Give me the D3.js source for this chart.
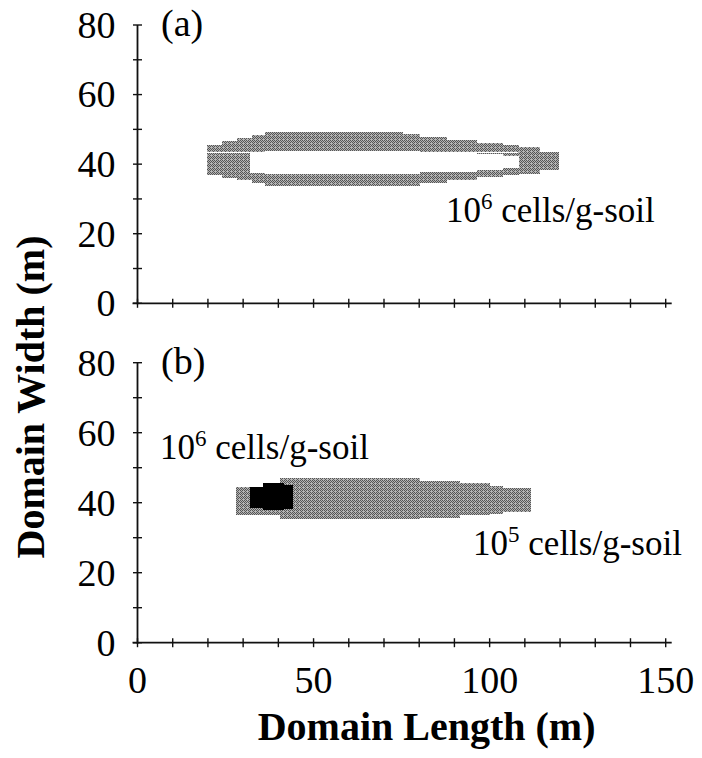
<!DOCTYPE html>
<html>
<head>
<meta charset="utf-8">
<script src="https://cdn.jsdelivr.net/npm/d3@7"></script>
<style>
  html, body { margin: 0; padding: 0; background: #fff; }
  svg { display: block; }
  text { font-family: "Liberation Serif", "Times New Roman", serif; fill: #000; }
</style>
</head>
<body>
<svg id="chart" width="702" height="758"></svg>
<script>
// Domain extents (m)
const xDomain = [0, 150];
const yDomain = [0, 80];
const xTickValues = d3.range(0, 151, 10);
const xTickLabels = [0, 50, 100, 150];
const yTickValues = d3.range(0, 81, 10);
const yTickLabels = [0, 20, 40, 60, 80];

// Panel (a): 10^6 cells/g-soil contour, stair-stepped column profile
const edgesA = [19.7, 23.9, 28.2, 32.4, 36.2, 75.5, 80.3, 87.8, 96.4, 103.9, 108.2, 114.3, 119.6];
const topA   = [45.5, 46.7, 47.4, 48.4, 49.2, 48.6, 47.8, 47.0, 46.2, 45.6, 45.0, 43.6];
const botA   = [36.9, 35.9, 35.4, 34.5, 33.8, 33.8, 34.6, 35.4, 36.2, 36.8, 37.2, 38.2];
// interior region of panel (a) below the threshold
const holeEdgesA = [32.0, 36.2, 80.3, 96.4, 103.9, 108.2];
const holeTopA   = [43.6, 43.8, 43.6, 43.0, 42.4];
const holeBotA   = [37.4, 37.2, 37.6, 38.2, 38.8];
// thin unfilled seams inside the band: [x0, x1, y]
const seamsA = [[19.7, 32.0, 43.6], [96.4, 108.2, 43.5]];

// Panel (b): 10^5 cells/g-soil contour
const edgesB = [28.0, 40.5, 80.3, 91.6, 100.1, 103.9, 111.8];
const topB   = [44.6, 47.0, 46.2, 45.5, 44.9, 44.1];
const botB   = [36.5, 35.3, 35.7, 36.5, 36.7, 37.4];
// Panel (b): 10^6 cells/g-soil core
const edgesCore = [32.0, 35.5, 41.5, 44.3];
const topCore   = [44.6, 45.5, 45.0];
const botCore   = [38.6, 37.9, 38.3];

const svg = d3.select("#chart");

// gray dither fill
const defs = svg.append("defs");
const pat = defs.append("pattern")
  .attr("id", "dither").attr("patternUnits", "userSpaceOnUse")
  .attr("width", 4).attr("height", 4);
pat.append("rect").attr("width", 4).attr("height", 4).attr("fill", "#b4b4b4");
[[0,0],[2,0],[1,1],[3,1],[0,2],[2,2],[1,3]].forEach(([px, py]) =>
  pat.append("rect").attr("x", px).attr("y", py).attr("width", 1).attr("height", 1).attr("fill", "#555"));

const x = d3.scaleLinear().domain(xDomain).range([137.5, 665.7]);
const panels = [
  { key: "a", y: d3.scaleLinear().domain(yDomain).range([303.3, 25]), xLabels: false },
  { key: "b", y: d3.scaleLinear().domain(yDomain).range([642.7, 362.7]), xLabels: true }
];

function columns(edges, tops, bots) {
  return tops.map((t, i) => ({ x0: edges[i], x1: edges[i + 1], hi: t, lo: bots[i] }));
}

function drawColumns(g, y, data, fill) {
  g.append("g").attr("shape-rendering", "crispEdges")
    .selectAll("rect").data(data).join("rect")
    .attr("x", d => x(d.x0))
    .attr("width", d => x(d.x1) - x(d.x0))
    .attr("y", d => y(d.hi))
    .attr("height", d => y(d.lo) - y(d.hi))
    .attr("fill", fill);
}

panels.forEach(p => {
  const g = svg.append("g");
  const y = p.y;

  if (p.key === "a") {
    drawColumns(g, y, columns(edgesA, topA, botA), "url(#dither)");
    drawColumns(g, y, columns(holeEdgesA, holeTopA, holeBotA), "#fff");
    g.append("g").selectAll("line").data(seamsA).join("line")
      .attr("x1", d => x(d[0])).attr("x2", d => x(d[1]))
      .attr("y1", d => Math.round(y(d[2])) + 0.5).attr("y2", d => Math.round(y(d[2])) + 0.5)
      .attr("stroke", "#fff").attr("stroke-width", 1);
  } else {
    drawColumns(g, y, columns(edgesB, topB, botB), "url(#dither)");
    drawColumns(g, y, columns(edgesCore, topCore, botCore), "#000");
  }

  // y axis with crossing ticks
  const yAxis = g.append("g").attr("transform", `translate(${x(0)},0)`);
  yAxis.append("line").attr("x1", 0).attr("x2", 0)
    .attr("y1", y(80)).attr("y2", y(0) + 1)
    .attr("stroke", "#111").attr("stroke-width", 1.8);
  yAxis.selectAll("line.tick").data(yTickValues).join("line").attr("class", "tick")
    .attr("x1", -4.5).attr("x2", 4.5)
    .attr("y1", d => y(d)).attr("y2", d => y(d))
    .attr("stroke", "#111").attr("stroke-width", 1.4);
  yAxis.selectAll("text").data(yTickLabels).join("text")
    .attr("x", -22).attr("y", d => y(d))
    .attr("dy", "0.34em").attr("text-anchor", "end")
    .attr("font-size", 38).text(d => d);

  // x axis with crossing ticks
  const xAxis = g.append("g").attr("transform", `translate(0,${y(0)})`);
  xAxis.append("line").attr("x1", x(0) - 5).attr("x2", x(150) + 6)
    .attr("y1", 0).attr("y2", 0)
    .attr("stroke", "#111").attr("stroke-width", 1.8);
  xAxis.selectAll("line.tick").data(xTickValues).join("line").attr("class", "tick")
    .attr("x1", d => x(d)).attr("x2", d => x(d))
    .attr("y1", -4.5).attr("y2", 4.5)
    .attr("stroke", "#111").attr("stroke-width", 1.4);
  if (p.xLabels) {
    xAxis.selectAll("text").data(xTickLabels).join("text")
      .attr("x", d => x(d)).attr("y", 50)
      .attr("text-anchor", "middle")
      .attr("font-size", 38).text(d => d);
  }

  // panel tag
  g.append("text").attr("x", 161).attr("y", y(80) + 11)
    .attr("font-size", 38).text(`(${p.key})`);
});

// contour labels
function contourLabel(y, xv, yv, exp) {
  const t = svg.append("text").attr("x", x(xv)).attr("y", y(yv)).attr("font-size", 35);
  t.append("tspan").text("10");
  t.append("tspan").attr("font-size", 23).attr("dy", -13).text(exp);
  t.append("tspan").attr("dy", 13).text(" cells/g-soil");
}
contourLabel(panels[0].y, 87.6, 23.4, "6");
contourLabel(panels[1].y, 6.4, 52.5, "6");
contourLabel(panels[1].y, 95.3, 25.0, "5");

// axis titles
svg.append("text").attr("x", (x(0) + x(150)) / 2 + 25).attr("y", 740)
  .attr("text-anchor", "middle").attr("font-size", 40).attr("font-weight", "bold")
  .text("Domain Length (m)");
svg.append("text")
  .attr("transform", "translate(44,397) rotate(-90)")
  .attr("text-anchor", "middle").attr("font-size", 40).attr("font-weight", "bold")
  .text("Domain Width (m)");
</script>
</body>
</html>
